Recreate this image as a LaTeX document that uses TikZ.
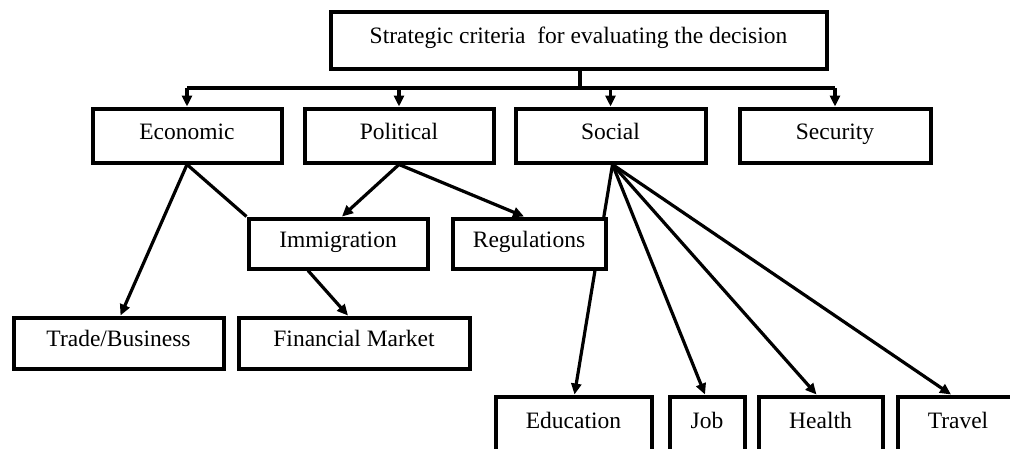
\documentclass[tikz,border=0pt]{standalone}
\usepackage{fontspec}
\setmainfont{Liberation Serif}
\usetikzlibrary{arrows.meta,backgrounds}
\begin{document}
\begin{tikzpicture}[x=1pt,y=-1pt,
  box/.style={draw=black,line width=4pt,fill=white,inner sep=0pt,
    text height=16pt,text depth=9pt,
    font=\fontsize{23.5}{28}\selectfont},
  link/.style={line width=3.2pt},
  arr/.style={line width=3.2pt,-{Triangle[length=11pt,width=10pt]}}]
\clip (0,0) rectangle (1010,448);
% level 0
\node[box,minimum width=496pt,minimum height=57pt] (top) at (578.5,40) {Strategic criteria \ for evaluating the decision};
% level 1
\node[box,minimum width=189pt,minimum height=54pt] (eco) at (187,135.5) {Economic};
\node[box,minimum width=189pt,minimum height=54pt] (pol) at (399,135.5) {Political};
\node[box,minimum width=190pt,minimum height=54pt] (soc) at (610.5,135.5) {Social};
\node[box,minimum width=191pt,minimum height=54pt] (sec) at (835,135.5) {Security};
% level 2
\node[box,minimum width=179pt,minimum height=50pt] (imm) at (338,243.5) {Immigration};
\node[box,minimum width=153pt,minimum height=50pt] (reg) at (529,243.5) {Regulations};
% level 3
\node[box,minimum width=210pt,minimum height=51pt] (trade) at (118.5,343) {Trade/Business};
\node[box,minimum width=231pt,minimum height=51pt] (fin) at (354,343) {Financial Market};
% level 4
\node[box,minimum width=156pt,minimum height=56pt] (edu) at (573.5,424.5) {Education};
\node[box,minimum width=75pt,minimum height=56pt] (job) at (707,424.5) {Job};
\node[box,minimum width=124pt,minimum height=56pt] (hea) at (820.5,424.5) {Health};
\node[box,minimum width=121pt,minimum height=56pt] (tra) at (958,424.5) {Travel};
\coordinate (j) at (580,88);
\begin{pgfonlayer}{background}
\fill[white] (0,0) rectangle (1010,448);
\draw[link] (top.south -| j) -- (j);
\draw[link] (eco.north |- j) -- (sec.north |- j);
\draw[arr] (eco.north |- j) -- (eco.north);
\draw[arr] (pol.north |- j) -- (pol.north);
\draw[arr] (soc.north |- j) -- (soc.north);
\draw[arr] (sec.north |- j) -- (sec.north);
\draw[arr] (eco.south) -- ([xshift=2pt]trade.north);
\draw[link] (eco.south) -- (imm.north west);
\draw[arr] (pol.south) -- ([xshift=4pt]imm.north);
\draw[arr] (pol.south) -- ([xshift=-5pt]reg.north);
\draw[arr] ([xshift=-30pt]imm.south) -- ([xshift=-6pt]fin.north);
\draw[arr] ([xshift=2pt]soc.south) -- ([xshift=1pt]edu.north);
\draw[arr] ([xshift=2pt]soc.south) -- ([xshift=-2pt]job.north);
\draw[arr] ([xshift=2pt]soc.south) -- ([xshift=-4pt]hea.north);
\draw[arr] ([xshift=2pt]soc.south) -- ([xshift=-7pt]tra.north);
\end{pgfonlayer}
\end{tikzpicture}
\end{document}
